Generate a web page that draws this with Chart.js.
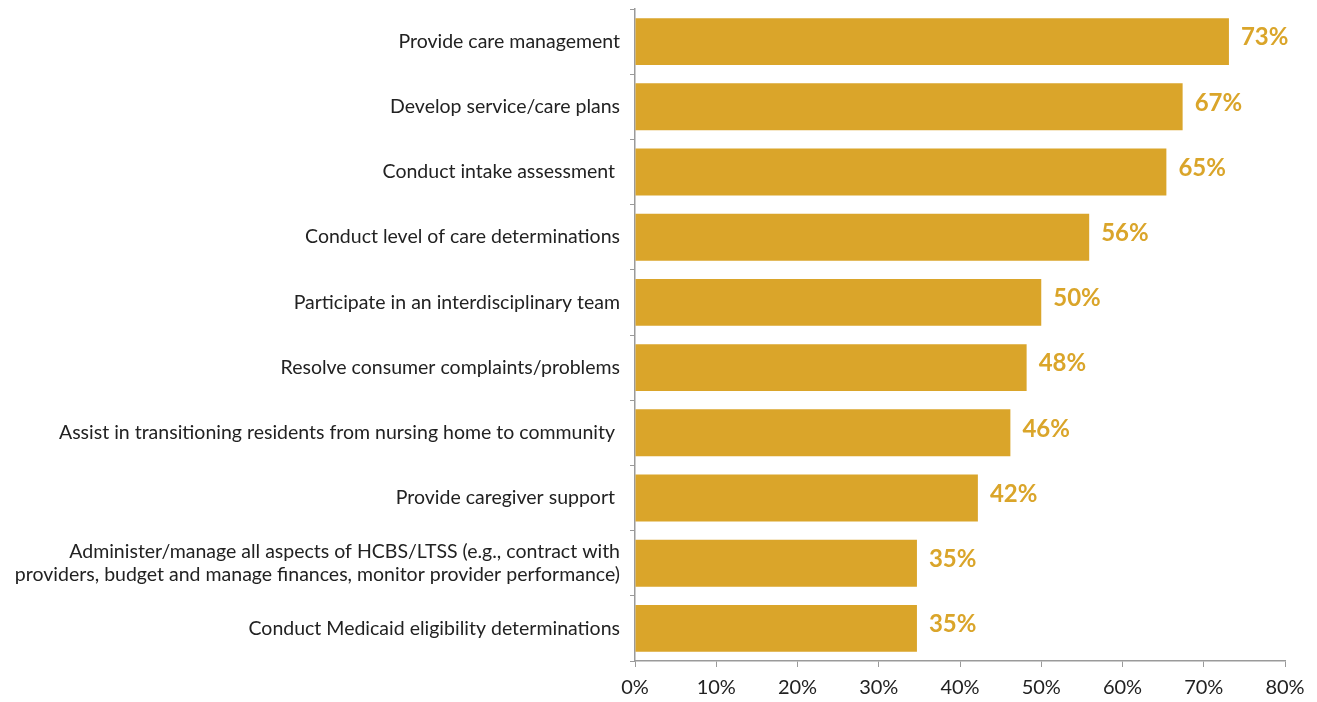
<!DOCTYPE html>
<html>
<head>
<meta charset="utf-8">
<script src="https://cdn.jsdelivr.net/npm/chart.js@4"></script>
<style>
  html, body { margin: 0; padding: 0; background: #fff; }
  #wrap { width: 1317px; height: 702px; }
</style>
</head>
<body>
<div id="wrap"><canvas id="barChart" width="1317" height="702"></canvas></div>
<script>
// Categories and values
const categories = [
  "Provide care management",
  "Develop service/care plans",
  "Conduct intake assessment ",
  "Conduct level of care determinations",
  "Participate in an interdisciplinary team",
  "Resolve consumer complaints/problems",
  "Assist in transitioning residents from nursing home to community ",
  "Provide caregiver support ",
  ["Administer/manage all aspects of HCBS/LTSS (e.g., contract with", "providers, budget and manage finances, monitor provider performance)"],
  "Conduct Medicaid eligibility determinations"
];
const values = [73.1, 67.4, 65.4, 55.9, 50.0, 48.2, 46.2, 42.2, 34.7, 34.7];
const valueLabels = ["73%", "67%", "65%", "56%", "50%", "48%", "46%", "42%", "35%", "35%"];
const xTicks = [0, 10, 20, 30, 40, 50, 60, 70, 80];

const barColor = "#DAA52A";

// Value labels at the end of each bar
const endLabels = {
  id: "endLabels",
  afterDatasetsDraw(chart) {
    const ctx = chart.ctx;
    const meta = chart.getDatasetMeta(0);
    ctx.save();
    ctx.font = "bold 24px Lato";
    ctx.fillStyle = barColor;
    ctx.textAlign = "left";
    ctx.textBaseline = "middle";
    meta.data.forEach((bar, i) => {
      ctx.fillText(valueLabels[i], bar.x + 12, bar.y - 4);
    });
    ctx.restore();
  }
};

const ctx = document.getElementById("barChart").getContext("2d");
new Chart(ctx, {
  type: "bar",
  data: {
    labels: categories,
    datasets: [{
      data: values,
      backgroundColor: barColor,
      borderWidth: 0,
      barPercentage: 0.72,
      categoryPercentage: 1.0
    }]
  },
  plugins: [endLabels],
  options: {
    indexAxis: "y",
    responsive: false,
    animation: false,
    layout: { padding: { top: 9, right: 32, left: 0, bottom: 0 } },
    plugins: {
      legend: { display: false },
      tooltip: { enabled: false }
    },
    scales: {
      x: {
        min: 0,
        max: 80,
        afterBuildTicks(scale) {
          scale.ticks = xTicks.map(v => ({ value: v }));
        },
        afterFit(scale) { scale.height = 41; },
        grid: {
          drawOnChartArea: false,
          tickLength: 6,
          color: "#9a9a9a"
        },
        border: { color: "#9a9a9a", width: 1.5 },
        ticks: {
          color: "#222",
          font: { family: "Lato", size: 20 },
          padding: 9,
          callback: v => v + "%"
        }
      },
      y: {
        afterFit(scale) {
          scale.width = 635;
          scale.paddingTop = 0;
          scale.paddingBottom = 0;
        },
        grid: {
          drawOnChartArea: false,
          tickLength: 5,
          color: "#9a9a9a",
          offset: true
        },
        border: { color: "#9a9a9a", width: 1.5 },
        ticks: {
          color: "#222",
          font: { family: "Lato", size: 19.5 },
          padding: 10,
          autoSkip: false
        }
      }
    }
  }
});
</script>
</body>
</html>
